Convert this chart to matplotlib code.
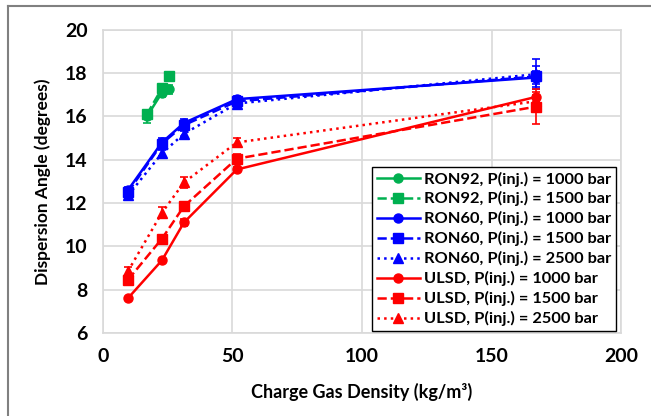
import matplotlib
matplotlib.use("Agg")
import matplotlib.pyplot as plt
from matplotlib.lines import Line2D

plt.rcParams['font.family'] = ['Lato', 'DejaVu Sans']
plt.rcParams['font.weight'] = 'bold'

# Data
x_ron92 = [17.0, 22.8, 25.5]
ron92_1000 = [16.0, 17.1, 17.25]
ron92_1000_err = [0.3, 0.2, 0.2]
ron92_1500 = [16.1, 17.3, 17.85]
ron92_1500_err = [0.1, 0.1, 0.15]

x_main = [9.7, 22.8, 31.3, 51.7, 167.0]
ron60_1000 = [12.6, 14.8, 15.7, 16.8, 17.8]
ron60_1000_err = [0.15, 0.2, 0.2, 0.15, 0.3]
ron60_1500 = [12.5, 14.75, 15.6, 16.7, 17.85]
ron60_1500_err = [0.15, 0.15, 0.2, 0.15, 0.5]
ron60_2500 = [12.35, 14.3, 15.2, 16.6, 17.95]
ron60_2500_err = [0.15, 0.15, 0.15, 0.1, 0.7]

ulsd_1000 = [7.6, 9.35, 11.1, 13.55, 16.9]
ulsd_1000_err = [0.05, 0.05, 0.15, 0.1, 0.25]
ulsd_1500 = [8.45, 10.35, 11.85, 14.05, 16.45]
ulsd_1500_err = [0.1, 0.05, 0.05, 0.2, 0.8]
ulsd_2500 = [8.85, 11.55, 12.95, 14.8, 16.7]
ulsd_2500_err = [0.2, 0.25, 0.25, 0.2, 0.3]

labels = ["RON92, P(inj.) = 1000 bar", "RON92, P(inj.) = 1500 bar",
          "RON60, P(inj.) = 1000 bar", "RON60, P(inj.) = 1500 bar",
          "RON60, P(inj.) = 2500 bar", "ULSD, P(inj.) = 1000 bar",
          "ULSD, P(inj.) = 1500 bar", "ULSD, P(inj.) = 2500 bar"]

green = '#00B050'
blue = '#0000FF'
red = '#FF0000'

fig = plt.figure(figsize=(6.51, 4.16), dpi=100)
ax = fig.add_axes([0.158, 0.2, 0.796, 0.728])

series = [
    (x_ron92, ron92_1000, ron92_1000_err, green, '-', 'o'),
    (x_ron92, ron92_1500, ron92_1500_err, green, '--', 's'),
    (x_main, ron60_1000, ron60_1000_err, blue, '-', 'o'),
    (x_main, ron60_1500, ron60_1500_err, blue, '--', 's'),
    (x_main, ron60_2500, ron60_2500_err, blue, ':', '^'),
    (x_main, ulsd_1000, ulsd_1000_err, red, '-', 'o'),
    (x_main, ulsd_1500, ulsd_1500_err, red, '--', 's'),
    (x_main, ulsd_2500, ulsd_2500_err, red, ':', '^'),
]
handles = []
for (xs, ys, es, c, ls, m), lab in zip(series, labels):
    ax.errorbar(xs, ys, yerr=es, color=c, linestyle=ls, marker=m,
                markersize=6.5, linewidth=1.8, capsize=3, elinewidth=1.2,
                capthick=1.2)
    handles.append(Line2D([0], [0], color=c, linestyle=ls, marker=m,
                          markersize=6.5, linewidth=1.8, label=lab))

ax.set_xlim(0, 200)
ax.set_ylim(6, 20)
ax.set_xticks([0, 50, 100, 150, 200])
ax.set_yticks([6, 8, 10, 12, 14, 16, 18, 20])
ax.grid(True, color='#D9D9D9', linewidth=1.2)
ax.set_axisbelow(True)
for s in ax.spines.values():
    s.set_color('#D9D9D9')
    s.set_linewidth(1.2)
ax.tick_params(length=0, labelsize=14, pad=11)
for t in ax.get_xticklabels() + ax.get_yticklabels():
    t.set_fontweight('bold')
ax.set_xlabel('Charge Gas Density (kg/m³)', fontsize=13, fontweight='bold', labelpad=13)
ax.set_ylabel('Dispersion Angle (degrees)', fontsize=12.5, fontweight='bold', labelpad=10)

leg = ax.legend(handles=handles, loc='lower right', bbox_to_anchor=(0.99, 0.005),
                fontsize=11.8, frameon=True, fancybox=False, edgecolor='black',
                framealpha=1, handlelength=2.6, handletextpad=0.25,
                labelspacing=0.3, borderpad=0.3, borderaxespad=0.0)
leg.get_frame().set_linewidth(1.0)
for t in leg.get_texts():
    t.set_fontweight('bold')

# figure border
fig.add_artist(plt.Line2D([8/651, 1], [1 - 6/416, 1 - 6/416], color='#808080', lw=1.5,
                          transform=fig.transFigure))
fig.add_artist(plt.Line2D([8/651, 8/651], [0, 1 - 6/416], color='#808080', lw=1.5,
                          transform=fig.transFigure))

fig.savefig('out.png', dpi=100)
